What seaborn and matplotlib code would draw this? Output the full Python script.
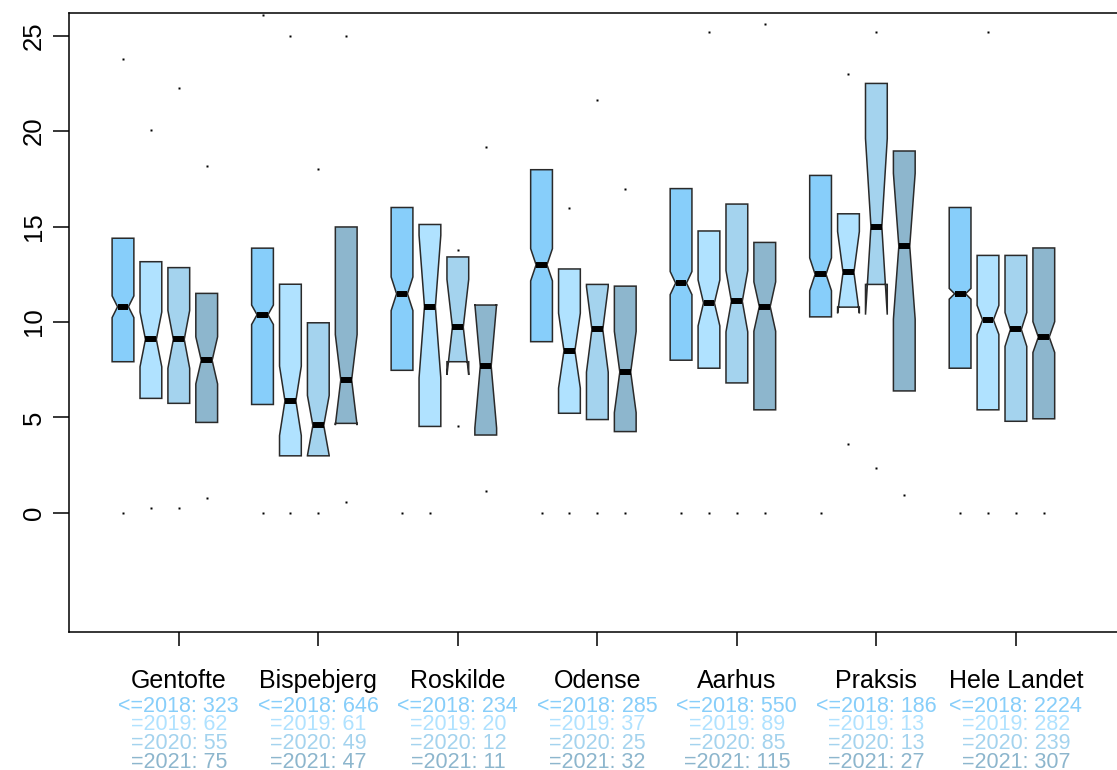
import numpy as np
import matplotlib
matplotlib.use("Agg")
import matplotlib.pyplot as plt
import matplotlib.transforms as mtransforms
import seaborn as sns

# ---------------- data ----------------
groups = ["Gentofte", "Bispebjerg", "Roskilde", "Odense", "Aarhus", "Praksis", "Hele Landet"]
periods = ["<=2018", "=2019", "=2020", "=2021"]

# sample sizes per group, per period
n_counts = [
    [323, 62, 55, 75],
    [646, 61, 49, 47],
    [234, 20, 12, 11],
    [285, 37, 25, 32],
    [550, 89, 85, 115],
    [186, 13, 13, 27],
    [2224, 282, 239, 307],
]
# medians
medians = [
    [10.80, 9.09, 9.09, 7.99],
    [10.38, 5.87, 4.58, 6.97],
    [11.48, 10.81, 9.73, 7.69],
    [13.00, 8.50, 9.61, 7.38],
    [12.04, 11.00, 11.09, 10.81],
    [12.50, 12.60, 15.00, 13.97],
    [11.48, 10.11, 9.61, 9.21],
]
# lower hinges
q1_vals = [
    [7.92, 6.00, 5.74, 4.74],
    [5.68, 2.99, 2.99, 4.69],
    [7.47, 4.53, 7.92, 4.08],
    [8.97, 5.22, 4.89, 4.26],
    [8.00, 7.58, 6.81, 5.40],
    [10.27, 10.78, 11.97, 6.39],
    [7.58, 5.40, 4.80, 4.93],
]
# upper hinges
q3_vals = [
    [14.39, 13.16, 12.85, 11.50],
    [13.87, 11.98, 9.96, 14.98],
    [16.00, 15.11, 13.41, 10.89],
    [17.98, 12.78, 11.97, 11.88],
    [16.99, 14.77, 16.18, 14.17],
    [17.68, 15.67, 22.50, 18.96],
    [16.00, 13.49, 13.49, 13.88],
]
# whisker-end dots (None = not shown)
low_dots = [
    [0.0, 0.28, 0.28, 0.77],
    [0.0, 0.0, 0.0, 0.56],
    [0.0, 0.0, 4.55, 1.17],
    [0.0, 0.0, 0.0, 0.0],
    [0.0, 0.0, 0.0, 0.0],
    [0.0, 3.59, 2.36, 0.95],
    [0.0, 0.0, 0.0, 0.0],
]
high_dots = [
    [23.79, 20.08, 22.27, 18.18],
    [26.10, 25.00, 18.00, 25.00],
    [None, None, 13.78, 19.18],
    [None, 15.98, 21.61, 16.99],
    [None, 25.20, None, 25.60],
    [None, 23.02, 25.20, None],
    [None, 25.20, None, None],
]
y_ticks = [0, 5, 10, 15, 20, 25]

# ---------------- style ----------------
sns.set_style("white")
plt.rcParams["font.family"] = ["Liberation Sans", "DejaVu Sans"]
plt.rcParams["axes.edgecolor"] = "black"
plt.rcParams["xtick.color"] = "black"
plt.rcParams["ytick.color"] = "black"
plt.rcParams["text.color"] = "black"

box_colors = sns.color_palette(["#87CEFA", "#B0E2FF", "#A4D3EE", "#8DB6CD"])

W, H = 1117, 770
fig = plt.figure(figsize=(W / 100, H / 100), dpi=100)
ax = fig.add_axes([69 / W, (H - 632) / H, (1125 - 69) / W, (632 - 13) / H])

stats, positions, fills = [], [], []
for g in range(len(groups)):
    for j in range(len(periods)):
        med = medians[g][j]
        q1 = q1_vals[g][j]
        q3 = q3_vals[g][j]
        n = n_counts[g][j]
        half = 1.58 * (q3 - q1) / np.sqrt(n)
        dots = [d for d in (low_dots[g][j], high_dots[g][j]) if d is not None]
        stats.append(dict(med=med, q1=q1, q3=q3, whislo=q1, whishi=q3,
                          cilo=med - half, cihi=med + half,
                          fliers=np.array(dots, dtype=float)))
        positions.append(g * 5 + j)
        fills.append(box_colors[j])

res = ax.bxp(stats, positions=positions, widths=0.78, shownotches=True,
             patch_artist=True, showcaps=False, showfliers=True,
             boxprops=dict(edgecolor="#2a2a2a", linewidth=1.1),
             medianprops=dict(color="black", linewidth=4.3, solid_capstyle="butt"),
             whiskerprops=dict(linestyle="none"),
             flierprops=dict(marker="s", markersize=2.0, markerfacecolor="black",
                             markeredgecolor="none", linestyle="none"))
for patch, col in zip(res["boxes"], fills):
    patch.set_facecolor(col)

ax.set_xlim(-1.935, 35.91)
ax.set_ylim(-6.24, 26.19)

centers = [g * 5 + 2 for g in range(len(groups))]
ax.set_xticks(centers)
ax.set_xticklabels([])
ax.set_yticks(y_ticks)
ax.set_yticklabels([str(t) for t in y_ticks], rotation=90, va="center", fontsize=18.5)
ax.tick_params(axis="x", bottom=True, length=10, width=1.1, direction="out")
ax.tick_params(axis="y", left=True, length=11.5, width=1.1, direction="out", pad=5)
for s in ax.spines.values():
    s.set_linewidth(1.1)
    s.set_color("black")

trans = mtransforms.blended_transform_factory(ax.transData, fig.transFigure)
baselines = [712, 730.5, 749, 767.5]
for g, c in enumerate(centers):
    ax.text(c, 1 - 688 / H, groups[g], ha="center", va="baseline",
            fontsize=18, transform=trans, clip_on=False)
    for j in range(len(periods)):
        ax.text(c, 1 - baselines[j] / H, f"{periods[j]}: {n_counts[g][j]}",
                ha="center", va="baseline", fontsize=15.5, color=box_colors[j],
                transform=trans, clip_on=False)

fig.savefig("out.png", dpi=100)
